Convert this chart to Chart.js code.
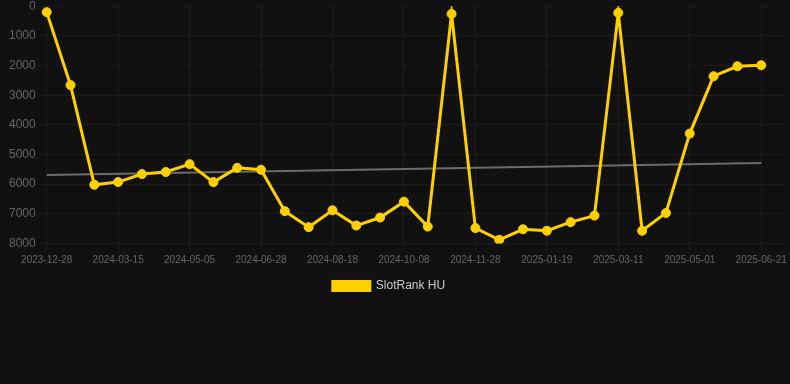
<!DOCTYPE html>
<html>
<head>
<meta charset="utf-8">
<script src="https://cdn.jsdelivr.net/npm/chart.js@4.4.1/dist/chart.umd.min.js"></script>
<style>
  html, body { margin: 0; padding: 0; background: #111111; overflow: hidden; }
  #wrap { position: relative; width: 792px; height: 306px; margin-top: -4px; }
</style>
</head>
<body>
<div id="wrap"><canvas id="rankChart"></canvas></div>
<script>
/* ======================================================
   Datos
====================================================== */
const dates = [
  '2023-12-28', '2024-01-24', '2024-02-20', '2024-03-15', '2024-04-01',
  '2024-04-18', '2024-05-05', '2024-05-20', '2024-06-13', '2024-06-28',
  '2024-07-15', '2024-08-01', '2024-08-18', '2024-09-04', '2024-09-21',
  '2024-10-08', '2024-10-25', '2024-11-11', '2024-11-28', '2024-12-15',
  '2025-01-01', '2025-01-19', '2025-02-05', '2025-02-22', '2025-03-11',
  '2025-03-28', '2025-04-14', '2025-05-01', '2025-05-18', '2025-06-04',
  '2025-06-21', '2025-07-08'
];

const rankHU = [
  200, 2660, 6020, 5930, 5660, 5590, 5325, 5930, 5450, 5515,
  6910, 7450, 6880, 7395, 7125, 6590, 7430, 260, 7480, 7875,
  7520, 7570, 7280, 7060, 225, 7570, 6970, 4295, 2360, 2025,
  1990, null
];

const trendStart = 5690;
const trendEnd = 5290;

const yTicks = { min: 0, max: 8000, step: 1000 };

/* ======================================================
   Gráfica
====================================================== */
const trend = dates.map((d, i) => {
  if (i === 0) return trendStart;
  if (i === rankHU.length - 2) return trendEnd;
  return null;
});

Chart.defaults.font.family = "'Liberation Sans', Arial, Helvetica, sans-serif";

// desplaza la leyenda un poco a la izquierda, como en el original
const legendShift = {
  id: 'legendShift',
  afterLayout(chart) {
    const lg = chart.legend;
    if (lg) {
      lg.left -= 10;
      lg.right -= 10;
    }
  }
};

new Chart(document.getElementById('rankChart'), {
  type: 'line',
  data: {
    labels: dates,
    datasets: [
      {
        label: 'SlotRank HU',
        data: rankHU,
        borderColor: '#ffd000',
        backgroundColor: '#ffd000',
        borderWidth: 3,
        pointRadius: 4.5,
        pointBorderWidth: 1,
        pointHoverRadius: 6,
        tension: 0,
        fill: false
      },
      {
        label: 'trend',
        data: trend,
        borderColor: '#6b6b6b',
        borderWidth: 2,
        pointRadius: 0,
        spanGaps: true,
        fill: false
      }
    ]
  },
  plugins: [legendShift],
  options: {
    responsive: true,
    maintainAspectRatio: false,
    animation: false,
    layout: { padding: { top: 0, right: 0, left: 6, bottom: 0 } },
    plugins: {
      legend: {
        display: true,
        position: 'bottom',
        labels: {
          color: '#cccccc',
          boxWidth: 37,
          boxHeight: 9,
          padding: 11.5,
          font: { size: 12 },
          filter: item => item.text !== 'trend'
        }
      },
      tooltip: { enabled: false }
    },
    scales: {
      x: {
        offset: false,
        grid: { color: 'rgba(255,255,255,0.05)' },
        border: { display: false },
        ticks: {
          color: '#666666',
          font: { size: 10 },
          padding: 2.5,
          maxRotation: 0,
          autoSkip: true
        }
      },
      y: {
        reverse: true,
        min: yTicks.min,
        max: yTicks.max,
        grid: { color: 'rgba(255,255,255,0.05)' },
        border: { display: false },
        ticks: {
          stepSize: yTicks.step,
          color: '#666666',
          font: { size: 12 },
          callback: v => String(v)
        }
      }
    }
  }
});
</script>
</body>
</html>
